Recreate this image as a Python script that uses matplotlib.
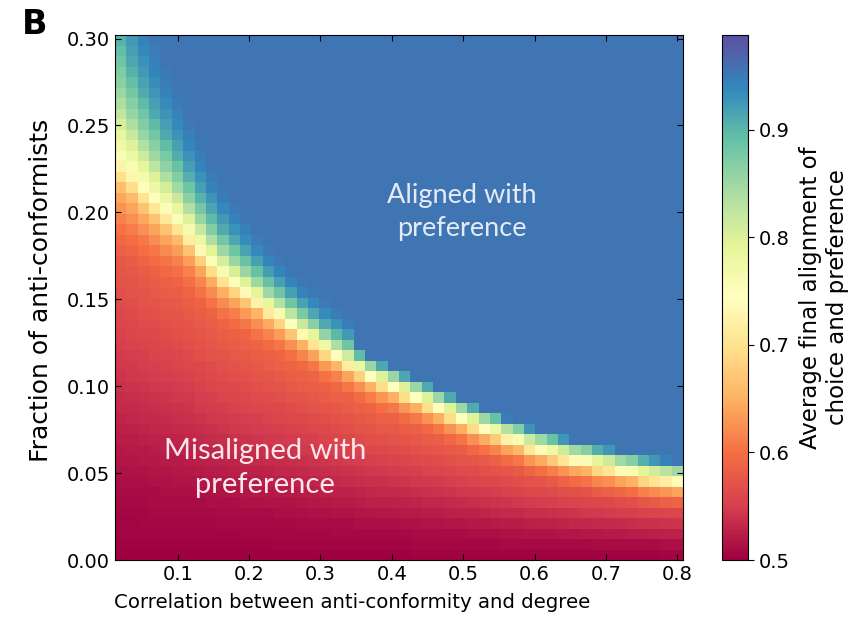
import numpy as np
import matplotlib
matplotlib.use("Agg")
import matplotlib.pyplot as plt

# grid of the simulation (50 x 50 cells)
corr_vals = np.linspace(0.02, 0.80, 50)      # correlation anti-conformity / degree
frac_vals = np.linspace(0.003, 0.299, 50)    # fraction of anti-conformists

# fraction where alignment crosses ~0.75 (yellow band), one value per column
boundary = [0.231, 0.224, 0.216, 0.209, 0.202, 0.196, 0.188, 0.180, 0.172, 0.165,
            0.160, 0.155, 0.150, 0.145, 0.141, 0.136, 0.131, 0.127, 0.122, 0.118,
            0.114, 0.110, 0.106, 0.103, 0.100, 0.097, 0.094, 0.091, 0.088, 0.085,
            0.082, 0.079, 0.076, 0.074, 0.071, 0.069, 0.066, 0.064, 0.062, 0.060,
            0.058, 0.057, 0.055, 0.054, 0.052, 0.051, 0.049, 0.048, 0.047, 0.046]

# how wide the transition is (in cells) above / below the band, per column
spread_up = [6, 5, 4.4, 3.9, 3.5, 3.1, 2.8, 2.5, 2.3, 2.1,
             1.9, 1.75, 1.6, 1.5, 1.4, 1.3, 1.25, 1.2, 1.15, 1.1,
             1.05] + [1.0] * 29
spread_down = [3.2, 2.9, 2.7, 2.5, 2.3, 2.1, 1.9, 1.8, 1.7, 1.6,
               1.5, 1.4, 1.35, 1.3, 1.25, 1.2, 1.15, 1.1, 1.1, 1.05,
               1.05] + [1.0] * 29

# colour read along a column, by cells away from the band
up_steps = [0, 1, 2, 3, 4]
up_vals = [0.75, 0.85, 0.91, 0.94, 0.955]
up_steps_right = [0, 1, 1.8]
up_vals_right = [0.75, 0.86, 0.955]
down_steps = [0, 1, 2, 3]
down_bump = [0.14, 0.05, 0.015, 0.0]
# below the band, colour vs. (fraction / band fraction)
base_frac = [0.0, 0.2, 0.4, 0.6, 0.8, 1.0]
base_vals = [0.50, 0.512, 0.535, 0.56, 0.585, 0.61]

dy = frac_vals[1] - frac_vals[0]
Z = np.zeros((len(frac_vals), len(corr_vals)))
for j in range(len(corr_vals)):
    for i, y in enumerate(frac_vals):
        d = (y - boundary[j]) / dy
        if d >= 0:
            if spread_up[j] > 1.0:
                Z[i, j] = np.interp(d / spread_up[j], up_steps, up_vals)
            else:
                Z[i, j] = np.interp(d, up_steps_right, up_vals_right)
        else:
            Z[i, j] = (np.interp(y / boundary[j], base_frac, base_vals)
                       + np.interp(-d / spread_down[j], down_steps, down_bump))

fig = plt.figure(figsize=(8.68, 6.19), dpi=100)
ax = fig.add_axes([115/868, 59/619, 568/868, 525/619])
cax = fig.add_axes([722/868, 59/619, 26/868, 525/619])

hx = (corr_vals[1] - corr_vals[0]) / 2
hy = dy / 2
im = ax.imshow(Z, origin='lower', aspect='auto', cmap='Spectral',
               vmin=0.5, vmax=0.988, interpolation='nearest',
               extent=[corr_vals[0] - hx, corr_vals[-1] + hx,
                       frac_vals[0] - hy, frac_vals[-1] + hy])

ax.set_xlim(corr_vals[0] - hx, corr_vals[-1] + hx)
ax.set_ylim(0, frac_vals[-1] + hy)
ax.set_xticks([0.1, 0.2, 0.3, 0.4, 0.5, 0.6, 0.7, 0.8])
ax.set_xticklabels(['0.1', '0.2', '0.3', '0.4', '0.5', '0.6', '0.7', '0.8'])
ax.set_yticks([0.0, 0.05, 0.10, 0.15, 0.20, 0.25, 0.30])
ax.set_yticklabels(['0.00', '0.05', '0.10', '0.15', '0.20', '0.25', '0.30'])
ax.tick_params(direction='in', top=True, right=True, labelsize=14, length=4)
ax.set_xlabel('Correlation between anti-conformity and degree', fontsize=14.2)
ax.xaxis.set_label_coords(0.417, -0.062)
ax.set_ylabel('Fraction of anti-conformists', fontsize=18)
ax.yaxis.set_label_coords(-0.109, 0.514)

ax.text(0.498, 0.200, 'Aligned with\npreference', ha='center', va='center',
        fontsize=19.5, color='#e4ebf5', family='Lato', linespacing=1.4)
ax.text(0.222, 0.053, 'Misaligned with\npreference', ha='center', va='center',
        fontsize=21, color='#fbe6ec', family='Lato', linespacing=1.35)

cb = fig.colorbar(im, cax=cax)
cb.set_ticks([0.5, 0.6, 0.7, 0.8, 0.9])
cb.ax.tick_params(labelsize=14, length=4)
cb.set_label('Average final alignment of\nchoice and preference', fontsize=16.5,
             labelpad=7)

fig.text(35/868, 1 - 24/619, 'B', fontsize=24, fontweight='bold',
         ha='center', va='center')

fig.savefig('out.png', dpi=100)
